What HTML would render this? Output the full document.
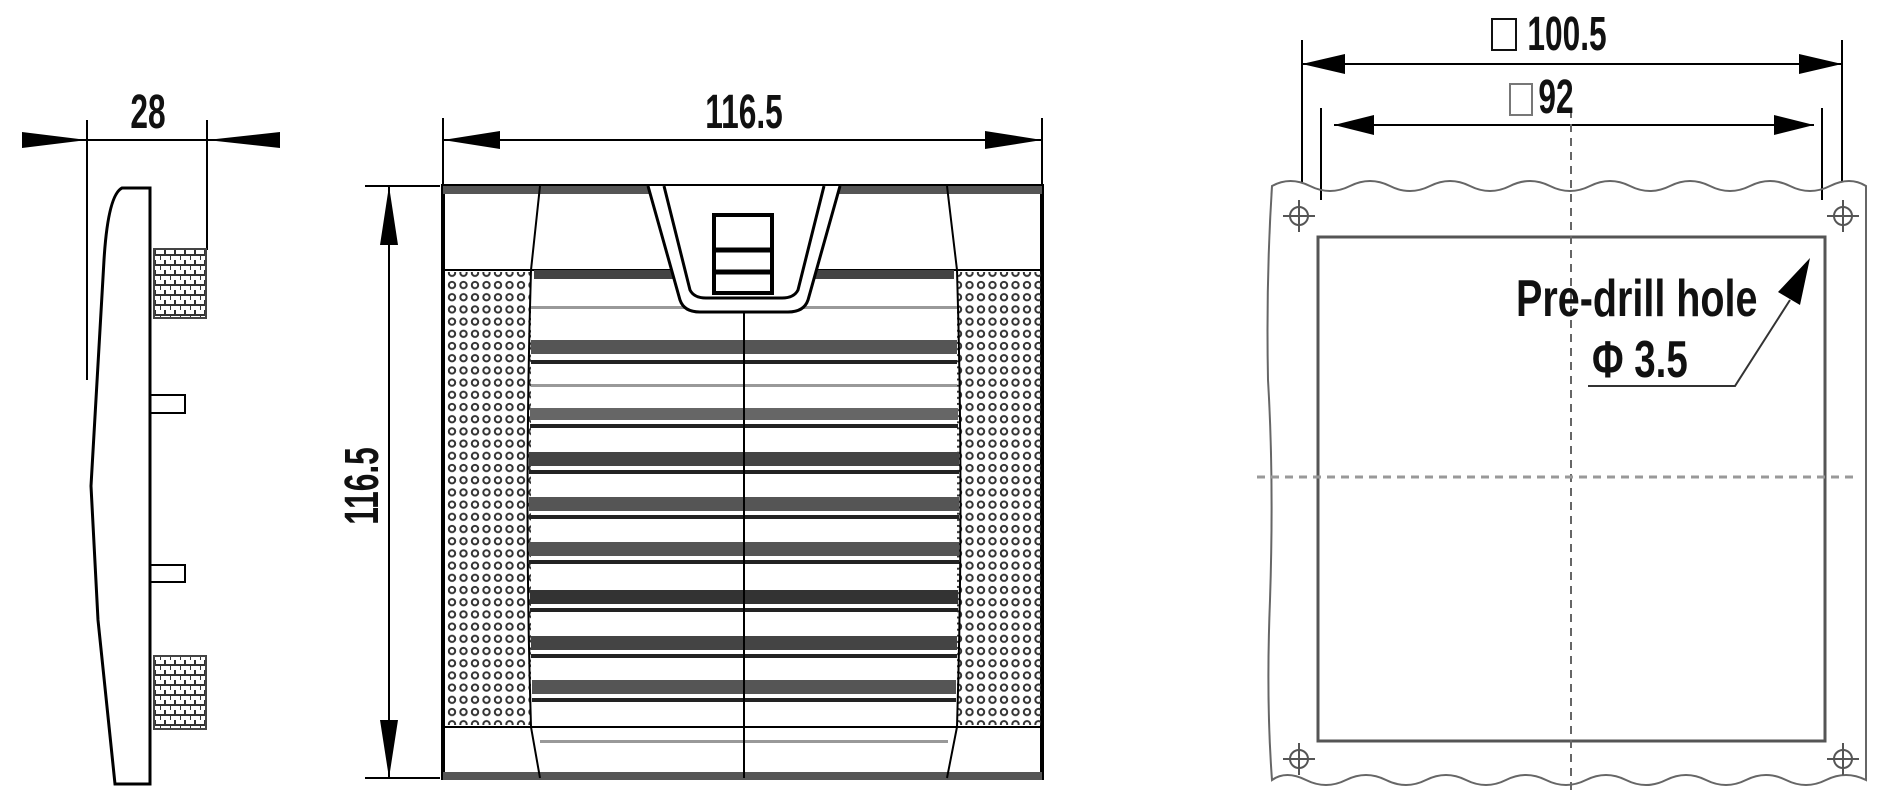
<!DOCTYPE html>
<html><head><meta charset="utf-8"><style>
html,body{margin:0;padding:0;background:#fff;}
svg{display:block}
text{font-family:"Liberation Sans",sans-serif;fill:#111;font-weight:bold;}
</style></head><body>
<svg width="1896" height="804" viewBox="0 0 1896 804" xmlns="http://www.w3.org/2000/svg">
<defs>
<pattern id="dots" x="447" y="280" width="11.5" height="12.2" patternUnits="userSpaceOnUse">
<circle cx="5" cy="5" r="3.2" fill="none" stroke="#333" stroke-width="2"/>
</pattern>
<pattern id="hatch" width="10" height="10" patternUnits="userSpaceOnUse">
<path d="M0 5H10M5 0V5M0 5V10" stroke="#333" stroke-width="2"/>
</pattern>
</defs>
<g stroke="#000" fill="none" stroke-width="2">
<!-- SIDE VIEW -->
<line x1="87" y1="120" x2="87" y2="380"/><line x1="207" y1="120" x2="207" y2="250"/>
<line x1="22" y1="140" x2="280" y2="140" stroke-width="2"/>
<path d="M22 132L87 140L22 148Z M280 132L207 140L280 148Z" fill="#000" stroke="none"/>
<path d="M150 188H122Q108 195 104 260L91 486L98 620L115 784H150Z" stroke-width="3" fill="#fff"/>
<line x1="150" y1="188" x2="150" y2="784" stroke-width="3"/>
<rect x="154" y="249" width="52" height="69" fill="url(#hatch)" stroke="#444"/>
<rect x="154" y="656" width="52" height="73" fill="url(#hatch)" stroke="#444"/>
<rect x="150" y="395" width="35" height="18"/>
<rect x="150" y="565" width="35" height="17"/>
<!-- FRONT VIEW -->
<line x1="443" y1="118" x2="443" y2="186"/><line x1="1042" y1="118" x2="1042" y2="186"/>
<line x1="443" y1="140" x2="1042" y2="140"/>
<path d="M443 140L500 131L500 149Z M1042 140L985 131L985 149Z" fill="#000" stroke="none"/>
<line x1="365" y1="186" x2="440" y2="186"/><line x1="365" y1="778" x2="440" y2="778"/>
<line x1="389" y1="186" x2="389" y2="778"/>
<path d="M389 186L380 245L398 245Z M389 778L380 720L398 720Z" fill="#000" stroke="none"/>
<rect x="443" y="186" width="599" height="592" stroke-width="4" fill="#fff"/>
<rect x="443" y="186" width="599" height="8" fill="#555" stroke="none"/>
<rect x="443" y="772" width="599" height="8" fill="#555" stroke="none"/>
<rect x="447" y="272" width="84" height="453" fill="url(#dots)" stroke="none"/>
<rect x="957" y="272" width="84" height="453" fill="url(#dots)" stroke="none"/>
<line x1="443" y1="270" x2="1042" y2="270"/><line x1="443" y1="727" x2="1042" y2="727"/>
<path d="M540 186L531 270Q524 500 531 727L540 778 M947 186L957 270Q964 500 957 727L947 778"/>
<g stroke="none">
<rect x="534" y="270" width="420" height="9" fill="#444"/>
<rect x="531" y="340" width="426" height="14" fill="#555"/>
<rect x="531" y="360" width="426" height="4" fill="#222"/>
<rect x="530" y="408" width="428" height="12" fill="#666"/>
<rect x="530" y="424" width="428" height="4" fill="#222"/>
<rect x="529" y="452" width="430" height="14" fill="#444"/>
<rect x="529" y="470" width="430" height="4" fill="#222"/>
<rect x="529" y="497" width="430" height="14" fill="#555"/>
<rect x="529" y="515" width="430" height="4" fill="#222"/>
<rect x="529" y="542" width="430" height="14" fill="#555"/>
<rect x="529" y="560" width="430" height="4" fill="#222"/>
<rect x="530" y="590" width="428" height="14" fill="#333"/>
<rect x="530" y="608" width="428" height="4" fill="#222"/>
<rect x="531" y="636" width="426" height="14" fill="#444"/>
<rect x="531" y="654" width="426" height="4" fill="#222"/>
<rect x="532" y="680" width="424" height="14" fill="#555"/>
<rect x="532" y="698" width="424" height="4" fill="#222"/>
<rect x="531" y="384" width="426" height="3" fill="#999"/>
<rect x="531" y="306" width="426" height="3" fill="#999"/>
<rect x="540" y="740" width="408" height="3" fill="#999"/>
</g>
<line x1="744" y1="190" x2="744" y2="778"/>
<!-- latch -->
<path d="M648 186L680 300Q684 312 700 312H788Q804 312 808 300L840 186" stroke-width="3" fill="#fff"/>
<path d="M664 186L690 290Q694 298 706 298H782Q794 298 798 290L824 186" stroke-width="3"/>
<rect x="714" y="215" width="58" height="78" stroke-width="4"/>
<line x1="714" y1="250" x2="772" y2="250" stroke-width="5"/>
<line x1="714" y1="272" x2="772" y2="272" stroke-width="5"/>
<!-- RIGHT DIAGRAM -->
<line x1="1302" y1="40" x2="1302" y2="182"/><line x1="1842" y1="40" x2="1842" y2="182"/>
<line x1="1302" y1="64" x2="1842" y2="64"/>
<path d="M1302 64L1345 54L1345 74Z M1842 64L1799 54L1799 74Z" fill="#000" stroke="none"/>
<line x1="1321" y1="108" x2="1321" y2="200"/><line x1="1822" y1="108" x2="1822" y2="200"/>
<line x1="1334" y1="125" x2="1814" y2="125"/>
<path d="M1334 125L1374 115L1374 135Z M1814 125L1774 115L1774 135Z" fill="#000" stroke="none"/>
<path d="M1272 186Q1290 176 1310 186T1350 186T1390 186T1430 186T1470 186T1510 186T1550 186T1590 186T1630 186T1670 186T1710 186T1750 186T1790 186T1830 186T1866 186 L1866 780 Q1846 770 1826 780T1786 780T1746 780T1706 780T1666 780T1626 780T1586 780T1546 780T1506 780T1466 780T1426 780T1386 780T1346 780T1306 780T1272 780 Q1266 700 1270 600Q1274 480 1268 380Q1266 280 1272 186Z" stroke="#666" stroke-width="2"/>
<rect x="1318" y="237" width="507" height="504" stroke="#555" stroke-width="3"/>
<g stroke="#555">
<circle cx="1299" cy="216" r="9"/><path d="M1299 200V232M1283 216H1315"/>
<circle cx="1843" cy="216" r="9"/><path d="M1843 200V232M1827 216H1859"/>
<circle cx="1299" cy="759" r="9"/><path d="M1299 743V775M1283 759H1315"/>
<circle cx="1843" cy="759" r="9"/><path d="M1843 743V775M1827 759H1859"/>
</g>
<line x1="1571" y1="110" x2="1571" y2="790" stroke="#666" stroke-dasharray="8,6"/>
<line x1="1257" y1="477" x2="1859" y2="477" stroke="#999" stroke-width="3" stroke-dasharray="8,6"/>
<path d="M1588 386H1735L1790 300" stroke="#333"/>
<path d="M1810 258L1800 305L1778 292Z" fill="#000" stroke="none"/>
</g>
<g font-size="48">
<text x="148" y="128" text-anchor="middle" transform="translate(148 0) scale(0.66 1) translate(-148 0)">28</text>
<text x="744" y="128" text-anchor="middle" transform="translate(744 0) scale(0.66 1) translate(-744 0)">116.5</text>
<text x="0" y="0" text-anchor="middle" transform="translate(378 486) rotate(-90) scale(0.66 1)">116.5</text>
<text x="1567" y="50" text-anchor="middle" transform="translate(1567 0) scale(0.66 1) translate(-1567 0)">100.5</text>
<text x="1556" y="113" text-anchor="middle" transform="translate(1556 0) scale(0.66 1) translate(-1556 0)">92</text>
<text x="1516" y="316" font-size="52" transform="translate(1516 0) scale(0.76 1) translate(-1516 0)">Pre-drill hole</text>
<text x="1592" y="377" font-size="52" transform="translate(1592 0) scale(0.74 1) translate(-1592 0)">Φ 3.5</text>
</g>
<rect x="1492" y="19" width="24" height="31" fill="none" stroke="#111" stroke-width="2"/>
<rect x="1510" y="84" width="22" height="31" fill="none" stroke="#777" stroke-width="2"/>
</svg>
</body></html>
